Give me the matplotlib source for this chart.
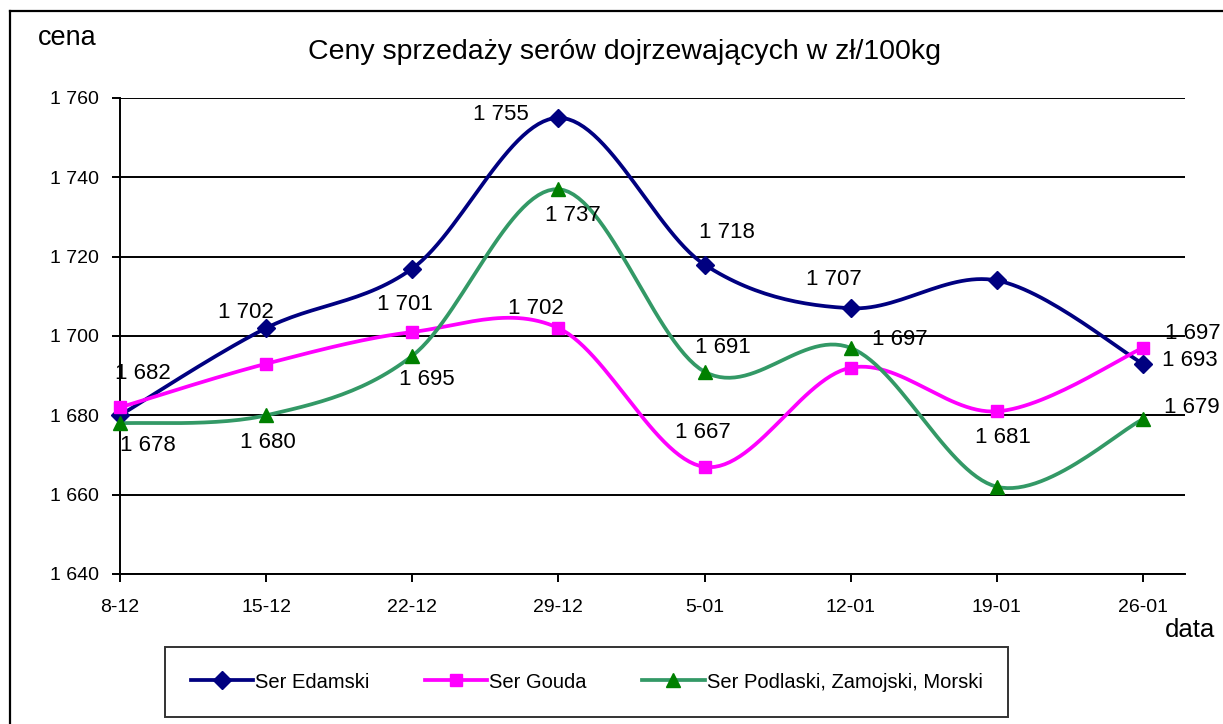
import numpy as np
import matplotlib
matplotlib.use("Agg")
import matplotlib.pyplot as plt
from matplotlib.lines import Line2D

plt.rcParams['font.family'] = ['Liberation Sans', 'DejaVu Sans']

categories = ["8-12", "15-12", "22-12", "29-12", "5-01", "12-01", "19-01", "26-01"]
edamski = [1680, 1702, 1717, 1755, 1718, 1707, 1714, 1693]
gouda = [1682, 1693, 1701, 1702, 1667, 1692, 1681, 1697]
podlaski = [1678, 1680, 1695, 1737, 1691, 1697, 1662, 1679]
series_names = ["Ser Edamski", "Ser Gouda", "Ser Podlaski, Zamojski, Morski"]
yticks = [1640, 1660, 1680, 1700, 1720, 1740, 1760]

# which points carry value labels (index lists)
lab_edamski = [1, 3, 4, 5, 7]
lab_gouda = [0, 2, 3, 4, 6, 7]
lab_podlaski = [0, 1, 2, 3, 4, 5, 7]

# label offsets in pixels (layout)
off_edamski = {1: (-20, 16), 3: (-58, 3), 4: (22, 32), 5: (-17, 29), 7: (47, 3)}
off_gouda = {0: (23, 34), 2: (-7, 28), 3: (-23, 20), 4: (-2, 34), 6: (6, -26), 7: (50, 14)}
off_podlaski = {0: (28, -22), 1: (2, -27), 2: (15, -24), 3: (14, -26), 4: (18, 24), 5: (49, 8), 7: (49, 12)}


def smooth(xs, ys, n=30):
    x = np.asarray(xs, float)
    y = np.asarray(ys, float)
    P = np.column_stack([x, y])
    m = len(P)
    out = []
    for i in range(m - 1):
        p0 = P[i - 1] if i > 0 else P[i]
        p1 = P[i]
        p2 = P[i + 1]
        p3 = P[i + 2] if i + 2 < m else P[i + 1]
        c1 = p1 + (p2 - p0) / 6.0
        c2 = p2 - (p3 - p1) / 6.0
        t = np.linspace(0, 1, n)[:, None]
        seg = ((1 - t) ** 3) * p1 + 3 * ((1 - t) ** 2) * t * c1 + 3 * (1 - t) * t ** 2 * c2 + t ** 3 * p2
        if i > 0:
            seg = seg[1:]
        out.append(seg)
    out = np.vstack(out)
    return out[:, 0], out[:, 1]


def fmt(v):
    return f"{v:,}".replace(",", " ")


W, H = 1223, 724
fig = plt.figure(figsize=(W / 100, H / 100), dpi=100)

# outer frame (left and top lines)
fig.add_artist(Line2D([10 / W, 10 / W], [0, 1 - 11 / H], color="black", lw=1.6, transform=fig.transFigure))
fig.add_artist(Line2D([10 / W, 1], [1 - 11 / H, 1 - 11 / H], color="black", lw=1.6, transform=fig.transFigure))

ax = fig.add_axes([120 / W, 150 / H, (1185 - 120) / W, (574 - 98) / H])
x = np.arange(len(categories))
ax.set_xlim(0, (1185 - 120) / 146.14)
ax.set_ylim(1640, 1760)

for yv in yticks:
    ax.axhline(yv, color="black", lw=1.4, zorder=1)

ax.set_yticks(yticks)
ax.set_yticklabels([fmt(v) for v in yticks], fontsize=14)
ax.set_xticks(x)
ax.set_xticklabels(categories, fontsize=14)
for s in ["top", "right"]:
    ax.spines[s].set_visible(False)
ax.spines["left"].set_linewidth(1.4)
ax.spines["bottom"].set_linewidth(1.4)
ax.tick_params(axis="y", direction="out", length=6, width=1.4, pad=9)
ax.tick_params(axis="x", direction="out", length=6, width=1.4, pad=12)

specs = [
    (edamski, "#000080", "#000080", "#000080", "D", 9.5, lab_edamski, off_edamski),
    (gouda, "#FF00FF", "#FF00FF", "#FF00FF", "s", 9, lab_gouda, off_gouda),
    (podlaski, "#339966", "#008000", "#008000", "^", 10.5, lab_podlaski, off_podlaski),
]
handles = []
for (vals, lc, mfc, mec, mk, ms, labs, offs), name in zip(specs, series_names):
    sx, sy = smooth(x, vals)
    ax.plot(sx, sy, color=lc, lw=2.7, zorder=3, clip_on=False, solid_capstyle="round")
    ax.plot(x, vals, linestyle="none", marker=mk, ms=ms, mfc=mfc, mec=mec, zorder=4, clip_on=False)
    handles.append(Line2D([], [], color=lc, lw=2.7, marker=mk, ms=ms, mfc=mfc, mec=mec))
    for i in labs:
        dx, dy = offs[i]
        ax.annotate(fmt(vals[i]), (x[i], vals[i]), xytext=(dx, dy), textcoords="offset pixels",
                    ha="center", va="center", fontsize=16, zorder=5, annotation_clip=False)

fig.text(625 / W, 1 - 52 / H, "Ceny sprzedaży serów dojrzewających w zł/100kg", ha="center", va="center", fontsize=20.5)
fig.text(67 / W, 1 - 38 / H, "cena", ha="center", va="center", fontsize=19.5)
fig.text(1190 / W, 1 - 630 / H, "data", ha="center", va="center", fontsize=18.5)

leg = fig.legend(handles, series_names, loc="center", bbox_to_anchor=((168 + 1005) / 2 / W, 1 - 682 / H),
                 ncol=3, fontsize=14.5, frameon=True, fancybox=False, edgecolor="black",
                 handlelength=3.1, handletextpad=0.1, columnspacing=2.75, borderpad=1.25, borderaxespad=0)
leg.get_frame().set_linewidth(1.4)

fig.savefig("out.png", dpi=100)
